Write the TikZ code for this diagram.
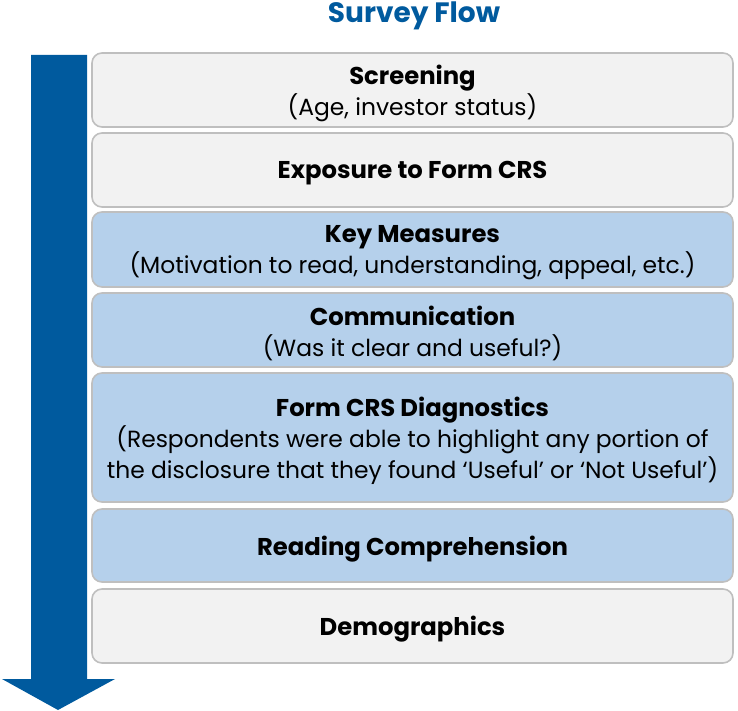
\documentclass[tikz,border=0pt]{standalone}
\usepackage{fontspec}
\setmainfont{Poppins}
\definecolor{flowblue}{HTML}{005A9E}
\definecolor{boxgray}{HTML}{F2F2F2}
\definecolor{boxblue}{HTML}{B5D0EB}
\definecolor{edgegray}{HTML}{BFBFBF}
\newcommand{\stagehead}[1]{{\fontsize{24.3}{31}\selectfont\bfseries #1}}
\begin{document}
\begin{tikzpicture}[x=1pt,y=-1pt,
  stage/.style={draw=edgegray, line width=1.6pt, rounded corners=10pt,
    minimum width=641pt, inner sep=0pt},
  grayst/.style={stage, fill=boxgray},
  bluest/.style={stage, fill=boxblue},
  stagetext/.style={align=center, inner sep=0pt, font=\fontsize{23.4}{31}\selectfont}]
\useasboundingbox (0,0) rectangle (738,711);
% title
\node[font=\bfseries\fontsize{28}{32}\selectfont, text=flowblue, anchor=base] (title) at (414,22.5) {Survey Flow};
% downward arrow along the left
\fill[flowblue] (31,55) -- (87,55) -- (87,679) -- (115,679) -- (58,710) -- (2,679) -- (31,679) -- cycle;
% stage boxes
\node[grayst, minimum height=74pt] (s1) at (412.5,90) {};
\node[grayst, minimum height=74pt] (s2) at (412.5,170) {};
\node[bluest, minimum height=75pt] (s3) at (412.5,249.5) {};
\node[bluest, minimum height=74pt] (s4) at (412.5,330) {};
\node[bluest, minimum height=129pt] (s5) at (412.5,437.5) {};
\node[bluest, minimum height=73pt] (s6) at (412.5,545.5) {};
\node[grayst, minimum height=74pt] (s7) at (412.5,626) {};
% stage labels
\node[stagetext] (t1) at ([yshift=-3.5pt]s1.center) {\stagehead{Screening}\\(Age, investor status)};
\node[stagetext] (t2) at ([yshift=-3.5pt]s2.center) {\stagehead{Exposure to Form CRS}};
\node[stagetext] (t3) at ([yshift=-3.5pt]s3.center) {\stagehead{Key Measures}\\(Motivation to read, understanding, appeal, etc.)};
\node[stagetext] (t4) at ([yshift=-3.5pt]s4.center) {\stagehead{Communication}\\(Was it clear and useful?)};
\node[stagetext] (t5) at ([yshift=-3.5pt]s5.center) {\stagehead{Form CRS Diagnostics}\\(Respondents were able to highlight any portion of\\the disclosure that they found ‘Useful’ or ‘Not Useful’)};
\node[stagetext] (t6) at ([yshift=-3.5pt]s6.center) {\stagehead{Reading Comprehension}};
\node[stagetext] (t7) at ([yshift=-3.5pt]s7.center) {\stagehead{Demographics}};
\end{tikzpicture}
\end{document}
